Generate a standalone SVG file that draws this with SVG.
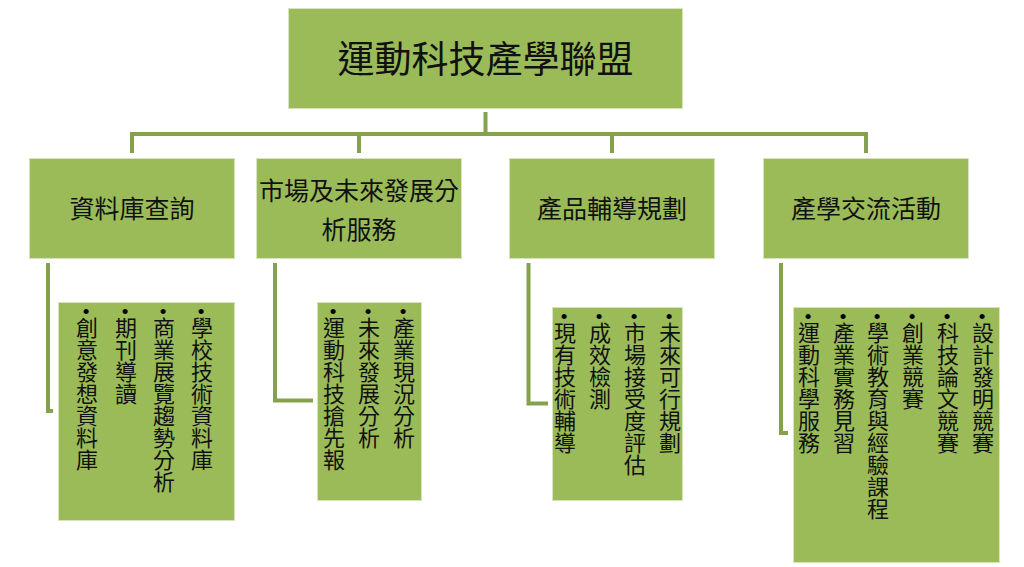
<svg xmlns="http://www.w3.org/2000/svg" width="1024" height="567" viewBox="0 0 1024 567">
<style>
.box{fill:#9BBB59;stroke:#D8E4BE;stroke-width:1}
.conn{fill:none;stroke:#86A14E;stroke-width:4;stroke-linejoin:miter}
.t{font-family:"Noto Sans CJK TC","Noto Sans CJK SC",sans-serif;fill:#111;text-anchor:middle;dominant-baseline:central}
.title{font-size:37px}
.l2{font-size:25px}
.v{font-family:"Noto Sans CJK TC","Noto Sans CJK SC",sans-serif;fill:#111;font-size:22px;writing-mode:vertical-rl;text-orientation:upright}
.b{font-family:"Liberation Sans",sans-serif;font-size:19px;fill:#000;text-anchor:middle;dominant-baseline:central}
</style>
<rect width="1024" height="567" fill="#ffffff"/>
<g id="connectors">
<path class="conn" d="M485.5,112 V134 M130,134 H868 M132,132 V153 M359,132 V153 M612,132 V153 M866,132 V153"/>
<path class="conn" d="M48,263 V411 H53"/>
<path class="conn" d="M275,263 V400.5 H313"/>
<path class="conn" d="M528.5,263 V403.5 H548"/>
<path class="conn" d="M781,263 V433 H788"/>
</g>
<g id="root">
<rect class="box" x="288.5" y="8.5" width="394" height="100"/>
<text class="t title" x="485.5" y="57">運動科技產學聯盟</text>
</g>
<g id="n1">
<rect class="box" x="29.5" y="158.5" width="205" height="100"/>
<text class="t l2" x="132" y="207">資料庫查詢</text>
</g>
<g id="n2">
<rect class="box" x="256.5" y="158.5" width="205" height="100"/>
<text class="t l2" x="359" y="189">市場及未來發展分</text>
<text class="t l2" x="359" y="228">析服務</text>
</g>
<g id="n3">
<rect class="box" x="509.5" y="158.5" width="205" height="100"/>
<text class="t l2" x="612" y="207">產品輔導規劃</text>
</g>
<g id="n4">
<rect class="box" x="763.5" y="158.5" width="205" height="100"/>
<text class="t l2" x="866" y="207">產學交流活動</text>
</g>
<g id="leaf1">
<rect class="box" x="58.5" y="302.5" width="176" height="218"/>
<text class="b" x="86" y="311">•</text><text class="v" x="87" y="317">創意發想資料庫</text>
<text class="b" x="125" y="311">•</text><text class="v" x="126" y="317">期刊導讀</text>
<text class="b" x="163" y="311">•</text><text class="v" x="164" y="317">商業展覽趨勢分析</text>
<text class="b" x="201" y="311">•</text><text class="v" x="202" y="317">學校技術資料庫</text>
</g>
<g id="leaf2">
<rect class="box" x="317.5" y="302.5" width="104" height="198"/>
<text class="b" x="333" y="311">•</text><text class="v" x="334" y="317">運動科技搶先報</text>
<text class="b" x="368" y="311">•</text><text class="v" x="369" y="317">未來發展分析</text>
<text class="b" x="403" y="311">•</text><text class="v" x="404" y="317">產業現況分析</text>
</g>
<g id="leaf3">
<rect class="box" x="552.5" y="307.5" width="130" height="193"/>
<text class="b" x="564" y="316">•</text><text class="v" x="565" y="322">現有技術輔導</text>
<text class="b" x="599" y="316">•</text><text class="v" x="600" y="322">成效檢測</text>
<text class="b" x="634" y="316">•</text><text class="v" x="635" y="322">市場接受度評估</text>
<text class="b" x="669" y="316">•</text><text class="v" x="670" y="322">未來可行規劃</text>
</g>
<g id="leaf4">
<rect class="box" x="793.5" y="307.5" width="206" height="255"/>
<text class="b" x="808" y="316">•</text><text class="v" x="809" y="322">運動科學服務</text>
<text class="b" x="843" y="316">•</text><text class="v" x="844" y="322">產業實務見習</text>
<text class="b" x="877" y="316">•</text><text class="v" x="878" y="322">學術教育與經驗課程</text>
<text class="b" x="912" y="316">•</text><text class="v" x="913" y="322">創業競賽</text>
<text class="b" x="947" y="316">•</text><text class="v" x="948" y="322">科技論文競賽</text>
<text class="b" x="982" y="316">•</text><text class="v" x="983" y="322">設計發明競賽</text>
</g>
</svg>
